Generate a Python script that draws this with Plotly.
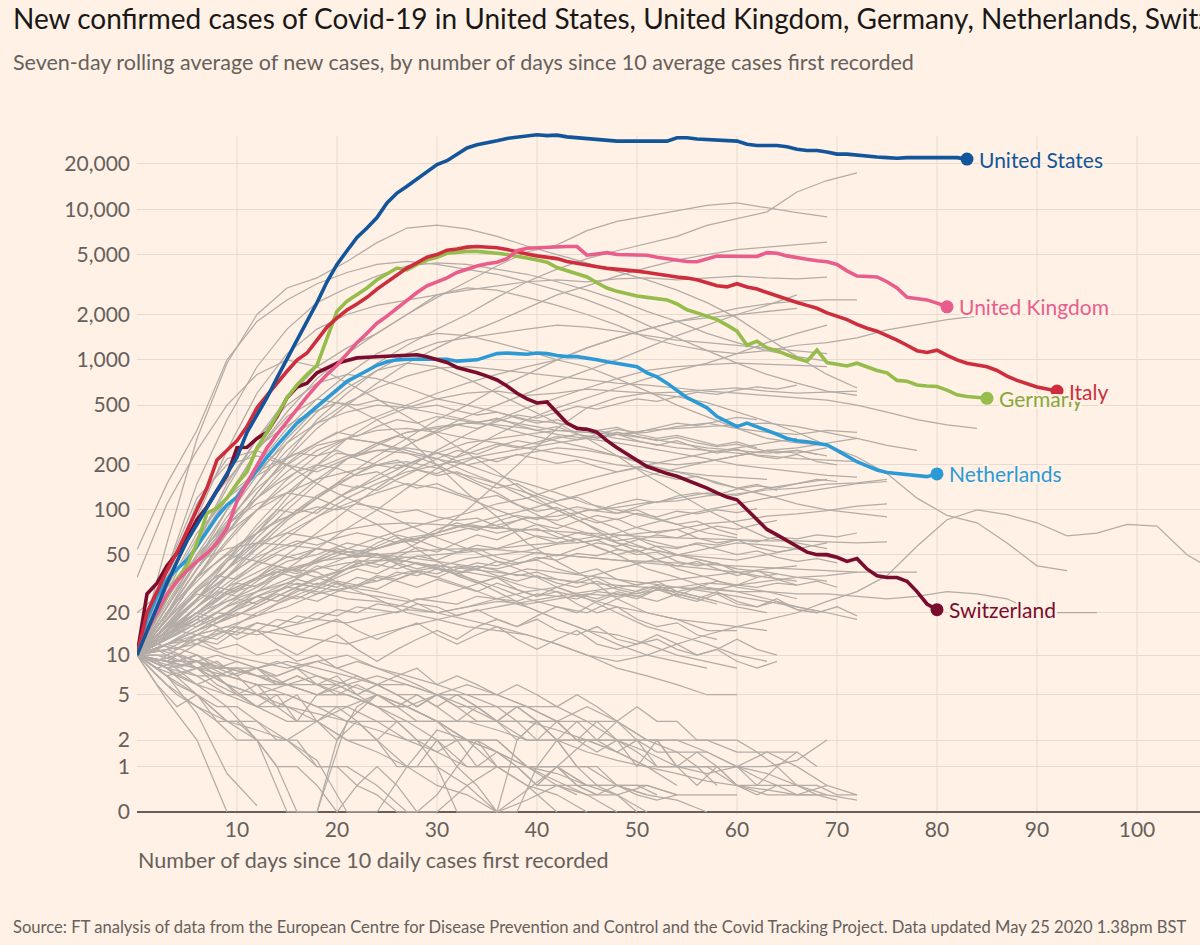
import math
import plotly.graph_objects as go

# ---------------- text ----------------
TITLE = ("New confirmed cases of Covid-19 in United States, United Kingdom, Germany, "
         "Netherlands, Switzerland and Italy")
SUBTITLE = "Seven-day rolling average of new cases, by number of days since 10 average cases first recorded"
X_TITLE = "Number of days since 10 daily cases first recorded"
SOURCE = ("Source: FT analysis of data from the European Centre for Disease Prevention and Control "
          "and the Covid Tracking Project. Data updated May 25 2020 1.38pm BST")

# ---------------- axes ----------------
Y_TICKS = [0, 1, 2, 5, 10, 20, 50, 100, 200, 500, 1000, 2000, 5000, 10000, 20000]
Y_TICK_LABELS = ["0", "1", "2", "5", "10", "20", "50", "100", "200", "500",
                 "1,000", "2,000", "5,000", "10,000", "20,000"]
X_TICKS = [10, 20, 30, 40, 50, 60, 70, 80, 90, 100]

# ---------------- highlighted countries (one value per day from day 0) ----------------
us_cases = [10, 15, 22, 32, 45, 62, 80, 105, 135, 175, 225, 330, 430, 560, 760, 1000, 1350, 1800,
            2400, 3300, 4300, 5300, 6500, 7500, 8800, 11000, 12800, 14200, 15800, 17500, 19800,
            21000, 23000, 25500, 26800, 27500, 28500, 29500, 30000, 30800, 31200, 30800, 31000,
            30200, 29800, 29500, 29000, 28500, 28300, 28300, 28300, 28300, 28300, 28300, 29800,
            29800, 29200, 29000, 29000, 28500, 28300, 27000, 26500, 26500, 26500, 26000, 25000,
            24500, 24500, 24000, 23200, 23200, 22800, 22500, 22200, 22000, 21800, 22000, 22000,
            22000, 22000, 22000, 22000, 21500]
uk_cases = [10, 15, 20, 27, 33, 39, 45, 51, 60, 75, 115, 150, 200, 260, 320, 390, 470, 570, 680,
            800, 920, 1100, 1300, 1500, 1750, 1950, 2200, 2500, 2800, 3100, 3300, 3500, 3800, 4000,
            4200, 4350, 4450, 4700, 5300, 5500, 5550, 5600, 5600, 5650, 5650, 4950, 5050, 5150,
            5000, 4980, 4960, 4950, 4800, 4700, 4600, 4500, 4480, 4700, 4890, 4870, 4850, 4850,
            4850, 5150, 5100, 4900, 4750, 4650, 4550, 4480, 4300, 3900, 3600, 3580, 3550, 3300,
            3000, 2600, 2550, 2500, 2380, 2250]
italy_cases = [10, 20, 28, 39, 52, 73, 100, 140, 216, 250, 290, 360, 480, 580, 700, 840, 997, 1110,
               1350, 1650, 1900, 2140, 2350, 2600, 2950, 3300, 3650, 4070, 4400, 4800, 5000, 5350,
               5450, 5600, 5650, 5600, 5550, 5400, 5200, 5050, 4900, 4830, 4700, 4500, 4400, 4260,
               4150, 4050, 4000, 3950, 3880, 3800, 3700, 3600, 3550, 3490, 3400, 3250, 3100, 3050,
               3200, 3050, 2950, 2800, 2650, 2520, 2400, 2300, 2200, 2050, 1950, 1850, 1720, 1620,
               1550, 1450, 1350, 1250, 1150, 1120, 1160, 1070, 1000, 950, 930, 900, 850, 780, 730,
               690, 660, 640, 620]
germany_cases = [10, 15, 20, 26, 34, 42, 60, 95, 103, 120, 150, 180, 260, 330, 430, 560, 680, 800,
                 920, 1400, 2100, 2450, 2700, 3000, 3400, 3700, 4070, 3950, 4300, 4600, 4800, 5100,
                 5200, 5250, 5250, 5200, 5100, 5000, 4900, 4750, 4600, 4450, 4100, 3900, 3700, 3550,
                 3250, 3000, 2850, 2750, 2650, 2600, 2550, 2500, 2350, 2150, 2050, 1950, 1850, 1700,
                 1550, 1250, 1330, 1200, 1150, 1080, 1020, 980, 1160, 960, 940, 910, 950, 900, 850,
                 820, 730, 720, 680, 670, 665, 630, 585, 570, 560, 555]
netherlands_cases = [10, 18, 26, 34, 40, 46, 57, 72, 90, 108, 122, 150, 185, 225, 270, 320, 380, 430,
                     490, 560, 640, 720, 780, 850, 920, 970, 1000, 1010, 1010, 1010, 1000, 1010, 980,
                     990, 1000, 1050, 1100, 1110, 1100, 1090, 1110, 1100, 1070, 1050, 1050, 1030,
                     1000, 970, 950, 930, 900, 820, 770, 700, 630, 560, 520, 480, 420, 390, 360, 380,
                     360, 340, 320, 300, 290, 285, 280, 272, 250, 230, 210, 197, 185, 178, 175, 172,
                     168, 167, 174]
switzerland_cases = [10, 27, 32, 42, 51, 65, 86, 105, 135, 170, 260, 262, 300, 330, 420, 560, 660,
                     700, 820, 880, 950, 990, 1030, 1040, 1050, 1060, 1060, 1070, 1080, 1050, 1010,
                     960, 890, 860, 820, 780, 735, 670, 600, 550, 517, 525, 450, 380, 350, 345, 330,
                     290, 260, 235, 215, 195, 185, 175, 168, 158, 150, 140, 130, 122, 117, 100, 85,
                     74, 68, 62, 57, 52, 50, 50, 48, 45, 47, 40, 36, 35, 35, 33, 28, 23, 21]

# ---------------- other countries (grey), one value every 3 days from day 0 ----------------
GRAY_STEP = 3

gray_high = [
    [10, 60, 300, 950, 2000, 3000, 3500, 4500, 6000, 7500, 7850, 7400, 6600, 5700, 5000, 4400, 3900,
     3400, 2900, 2400, 1900, 1400, 1050, 800, 650],
    [54, 150, 340, 1000, 1800, 2500, 3200, 3800, 4300, 4500, 4300, 4000, 3700, 3300, 2900, 2500, 2100,
     1700, 1400, 1150, 950, 800, 700, 620, 580],
    [10, 25, 60, 120, 250, 450, 750, 1100, 1500, 2000, 2600, 3300, 4200, 5200, 5800, 7200, 8300, 9000,
     9800, 10600, 11000, 10200, 9500, 8900],
    [10, 22, 45, 90, 170, 300, 480, 700, 950, 1250, 1600, 2000, 2600, 3300, 4000, 4700, 5300, 5900,
     6600, 7800, 8700, 9600, 13000, 15500, 17400],
    [10, 18, 35, 70, 130, 220, 350, 500, 700, 950, 1200, 1500, 1800, 2200, 2700, 3100, 3600, 4100,
     4600, 5000, 5400, 5600, 5800, 6050],
    [10, 40, 150, 400, 900, 1600, 2400, 3000, 3600, 4200, 4400, 4300, 4000, 3700, 3300, 2900, 2500,
     2100, 1800, 1500, 1300, 1150, 1050, 980],
    [10, 25, 60, 140, 300, 550, 900, 1200, 1500, 2000, 2700, 3000, 2900, 2600, 2300, 2000, 1700, 1400,
     1250, 1150, 1100, 1150, 1250, 1300, 1400, 1580, 1700, 1850, 1950],
    [10, 18, 35, 70, 130, 230, 400, 600, 850, 1100, 1300, 1400, 1500, 1600, 1700, 1650, 1550, 1450,
     1350, 1300, 1250, 1200, 1150, 1100],
    [10, 20, 45, 100, 200, 350, 550, 800, 1100, 1350, 1500, 1450, 1300, 1150, 1000, 900, 750, 620,
     500, 420, 350, 300, 280, 270],
    [10, 30, 90, 250, 600, 1100, 1600, 2000, 2300, 2500, 2700, 2900, 3100, 3300, 3400, 3300, 3450,
     3500, 3400, 3500, 3600, 3500, 3450, 3540],
    [10, 14, 22, 35, 55, 85, 120, 170, 230, 300, 400, 500, 650, 800, 1000, 1200, 1400, 1600, 1800,
     2000, 2200, 2350, 2450, 2500, 2500],
]

gray_mid = [
    [35, 110, 250, 500, 800, 1000, 900, 700, 550, 420, 320, 240, 180, 130, 100, 80, 65, 55, 50, 45,
     40, 38, 35, 33],
    [10, 25, 60, 150, 300, 500, 700, 800, 750, 650, 550, 500, 450, 400, 380, 350, 320, 300, 280, 260,
     250, 240, 250, 230],
    [10, 20, 40, 80, 150, 280, 450, 650, 850, 950, 900, 750, 600, 480, 380, 300, 230, 170, 130, 100,
     80, 65, 60, 55],
    [10, 15, 25, 40, 70, 120, 200, 300, 400, 480, 550, 600, 620, 580, 600, 640, 620, 600, 610, 630,
     650, 620, 600, 610, 620],
    [10, 25, 55, 120, 250, 420, 550, 500, 400, 300, 200, 130, 90, 60, 45, 35, 25, 20, 18, 15, 15],
    [10, 30, 70, 120, 170, 220, 280, 350, 420, 500, 600, 700, 800, 900, 1000, 1200, 1400, 1600, 1800,
     1900, 2000, 2100, 2200],
    [10, 15, 25, 40, 65, 100, 150, 220, 280, 330, 350, 380, 400, 370, 340, 330, 320, 330, 360, 380,
     350, 330, 320, 340, 330],
    [10, 18, 35, 60, 100, 160, 230, 300, 340, 350, 330, 300, 280, 260, 240, 220, 200, 190, 180, 170,
     165, 160],
    [10, 40, 120, 200, 230, 200, 180, 220, 250, 260, 240, 200, 170, 150, 130, 110, 100, 90, 80, 70, 65],
    [10, 12, 15, 18, 22, 28, 35, 40, 45, 55, 70, 100, 150, 230, 350, 480, 560, 600, 570, 520, 450,
     390, 330, 270, 226, 175, 120, 92, 82, 60, 42, 39],
    [10, 20, 40, 80, 150, 250, 380, 520, 650, 780, 880, 900, 860, 820, 780, 740, 700, 680, 650, 620,
     600, 580, 565, 540, 500, 450, 400, 370, 350],
    [10, 20, 35, 50, 70, 90, 120, 160, 210, 270, 340, 420, 500, 600, 720, 850, 1000, 1200, 1450, 1700,
     2000, 2300, 2700],
    [10, 12, 15, 20, 28, 40, 55, 75, 100, 140, 190, 250, 320, 400, 480, 560, 650, 750, 850, 950, 1100,
     1300, 1500, 1700],
    [10, 22, 50, 100, 180, 280, 380, 450, 500, 480, 440, 400, 360, 320, 290, 260, 230, 200, 180, 160,
     140, 125, 110, 100, 95, 90],
    [10, 14, 20, 30, 45, 65, 90, 120, 150, 180, 200, 220, 240, 260, 280, 300, 320, 340, 350, 360, 370,
     380, 360, 330, 300, 270, 250],
    [10, 16, 28, 45, 70, 110, 160, 220, 280, 330, 360, 380, 370, 350, 320, 300, 280, 260, 240, 220,
     200, 190, 180, 170, 166],
    [10, 35, 110, 220, 250, 200, 150, 120, 100, 80, 65, 55, 45, 38, 30, 25, 20, 16, 14, 12, 10, 9],
    [10, 20, 40, 70, 120, 200, 270, 300, 280, 240, 200, 160, 130, 100, 80, 70, 60, 55, 50, 48, 46, 50,
     55, 60],
    [10, 15, 25, 45, 80, 130, 190, 230, 250, 240, 220, 200, 220, 240, 260, 250, 230, 210, 200, 210,
     230, 250, 240, 260],
    [10, 13, 18, 25, 35, 50, 70, 100, 140, 190, 250, 320, 400, 480, 560, 650, 750, 850, 900, 930, 950,
     940, 920, 900],
]

gray_low = [
    [10, 14, 20, 28, 35, 45, 50, 60, 55, 65, 70, 80, 75, 90, 85, 100, 95, 110, 120, 130, 125, 140,
     150, 160],
    [10, 18, 30, 45, 60, 70, 65, 55, 50, 40, 35, 30, 25, 22, 18, 15, 14, 12, 10, 9, 8],
    [10, 12, 16, 20, 26, 32, 40, 48, 55, 62, 70, 80, 90, 100, 115, 130, 150, 170, 190, 210, 230, 250,
     260, 280, 300],
    [10, 20, 35, 50, 45, 40, 35, 30, 28, 25, 20, 18, 16, 14, 12, 10, 8, 7, 6, 5, 5],
    [10, 15, 22, 30, 38, 48, 55, 52, 50, 48, 45, 42, 40, 45, 50, 48, 46, 44, 42, 40, 38, 35, 33],
    [10, 9, 12, 15, 20, 25, 30, 40, 50, 45, 40, 35, 30, 25, 22, 20, 25, 30, 28, 25, 22, 20],
    [10, 16, 25, 35, 50, 70, 90, 110, 130, 150, 140, 120, 100, 85, 70, 60, 50, 40, 35, 30, 28, 25, 22,
     20, 18],
    [10, 14, 18, 24, 30, 38, 46, 55, 65, 75, 85, 95, 110, 120, 140, 160, 180, 200, 220, 240, 260, 280,
     300],
    [10, 12, 15, 18, 22, 28, 34, 40, 45, 48, 50, 52, 55, 58, 60, 65, 70, 80, 90, 100, 110, 120, 130,
     140, 150, 155],
    [10, 13, 17, 22, 26, 30, 28, 25, 24, 22, 20, 22, 25, 28, 30, 35, 40, 45, 50, 55, 60, 58, 55],
    [10, 20, 40, 70, 100, 130, 160, 180, 200, 210, 190, 170, 150, 130, 110, 90, 75, 60, 50, 45, 40],
    [10, 11, 14, 16, 19, 22, 27, 30, 33, 38, 41, 47, 50, 53, 59, 61, 67, 70, 74, 81, 84, 91, 94, 99,
     106, 110],
    [10, 25, 50, 80, 110, 130, 120, 100, 80, 60, 45, 35, 28, 22, 18, 15, 12, 10, 9, 8],
    [10, 15, 20, 24, 28, 32, 30, 28, 26, 24, 26, 30, 35, 40, 38, 36, 34, 32, 30, 28, 26, 24, 22, 20],
    [10, 18, 28, 40, 55, 75, 100, 130, 160, 200, 240, 280, 300, 320, 340, 330, 300, 280, 260, 250, 240,
     230, 220, 215, 210],
    [10, 12, 14, 16, 15, 14, 13, 12, 14, 16, 18, 20, 22, 24, 26, 28, 30, 32, 34, 36, 38, 40, 42],
    [10, 22, 45, 80, 120, 180, 250, 300, 280, 250, 220, 180, 150, 120, 100, 80, 60, 50, 40, 35, 30,
     28, 25],
    [10, 14, 19, 27, 31, 39, 44, 52, 55, 63, 67, 75, 79, 88, 91, 99, 104, 112, 115, 124, 128, 136, 140,
     149, 152, 160],
    [20, 30, 45, 55, 60, 58, 55, 50, 48, 45, 40, 38, 35, 30, 28, 25, 22, 20, 18, 17, 16, 15],
    [10, 12, 13, 15, 14, 16, 18, 17, 19, 21, 20, 22, 24, 23, 25, 27, 26, 28, 30, 32, 31, 33, 35, 36, 38],
    [10, 13, 17, 22, 28, 34, 40, 44, 46, 45, 42, 40, 38, 36, 34, 32, 31, 30, 30, 29, 28, 28, 27, 27,
     26, 25, 26, 28, 27, 25, 20, 20, 20],
    [10, 15, 20, 28, 35, 40, 38, 30, 25, 20, 18, 16, 15, 14, 12, 10, 9, 10, 12, 14, 16, 18, 20, 24, 28,
     36, 57, 86, 100, 93, 82, 67, 70, 80, 78, 50, 38],
    [10, 15, 22, 32, 44, 56, 66, 74, 80, 82, 80, 78, 76, 74, 72, 70, 68, 66, 65, 64, 63, 62, 62, 61, 60,
     61],
    [10, 14, 20, 27, 34, 40, 45, 48, 50, 52, 54, 55, 54, 52, 50, 48, 46, 45, 44, 43, 42, 41, 40, 39, 38,
     38, 38],
]

gray_fall = [
    [10, 4.5, 2, 0],
    [10, 7, 3.5, 0.8, 0.1],
    [10, 8, 5, 3, 3, 2, 1.2, 0, 0, 1, 2.5, 2, 1, 0.5, 0],
    [10, 9, 7, 5, 4, 3, 3, 2, 1.5, 1, 1, 0.5, 0, 0.4, 1, 2, 1.5, 1, 0.5],
    [10, 8, 6, 5, 5, 4, 3.5, 3, 2.5, 2, 1.5, 1, 1, 0.5, 0.3, 0],
    [10, 9, 8, 6, 5, 5, 4, 3, 3, 2, 2, 1, 1, 1, 0.6, 0.3, 0.3, 0.5, 0.3],
    [10, 6, 4, 3, 2.5, 2, 3, 4, 5, 4, 3, 2, 1.5, 1, 0.8, 0.5, 0.3, 0],
    [10, 11, 9, 7, 6, 5, 4, 4, 3, 3, 2, 2, 1.5, 1, 1, 0.5, 0.5, 0.3, 0.2, 0],
    [10, 8, 7, 7, 6, 6, 5, 5, 4, 4, 3, 3, 2.5, 2, 2, 1.5, 1.2, 1, 0.8, 0.6, 0.5, 0.4, 0.3, 0.3],
    [10, 9, 6, 4, 2, 0, 0, 3, 5, 4, 3, 2, 2, 1, 1, 0.5],
    [10, 10, 8, 8, 7, 6, 6, 5, 4, 4, 3, 3, 3, 2, 2, 2, 1.5, 1, 1, 1, 0.5, 0.3, 0.3, 0.5, 0.3],
    [10, 7, 5, 3, 2, 2, 1, 1, 0.5, 0, 0, 0.5, 1, 1, 0.5, 0.3, 0],
    [10, 12, 10, 8, 7, 6, 5, 5, 4, 3, 3, 2, 2, 1, 1, 1, 0.5, 0.5, 0.3, 0.3, 0.3],
    [10, 9, 8, 7, 8, 9, 8, 7, 6, 6, 5, 5, 4, 4, 3, 3, 2, 2, 1.5, 1.5, 1, 1, 1.2, 2],
    [10, 8, 9, 6, 5, 6, 7, 6, 5, 4, 5, 4, 3, 3, 2.5, 2, 2, 1.5, 1, 0.8, 1, 1.5, 1, 0.5],
    [10, 7, 8, 6, 4, 4, 3, 2, 2, 1, 0.5, 0.3, 0, 0.2, 0.5, 0.5, 0.5, 0.3],
    [10, 11, 12, 10, 9, 8, 9, 10, 8, 7, 6, 5, 5, 4, 4, 3, 3, 2, 2, 1.5, 1, 0.8, 0.5, 0.3, 0.2],
    [10, 9, 9, 8, 8, 6, 5, 6, 7, 6, 5, 6, 5, 4, 3, 4, 3, 2, 2, 2, 1.5, 1.5, 1.5],
]

# ---------------- more grey countries, one value every 2 days from day 0 ----------------
GRAY_STEP_FINE = 2

gray_fall_fine = [
    [10, 8, 7, 6, 7, 5, 4, 5, 3, 3, 2, 3, 2, 1, 1, 2, 1, 0.5, 0, 0, 1, 2, 1, 0.5, 0.3, 0],
    [10, 9, 10, 8, 9, 7, 8, 6, 7, 6, 5, 6, 5, 4, 5, 4, 3, 4, 3, 3, 2, 3, 2, 2, 1.5, 2, 1, 1, 0.5, 1,
     0.5, 0.3, 0.5],
    [10, 7, 5, 4, 3, 3, 2, 1, 0, 0, 2, 4, 5, 4, 3, 3, 2, 2, 1, 1, 0.5, 1, 0.5, 0.3],
    [10, 11, 9, 10, 8, 9, 8, 7, 8, 6, 7, 5, 6, 5, 4, 5, 4, 4, 3, 4, 3, 3, 2, 3, 2, 2, 1.5, 1.5, 1, 1,
     1, 0.7, 0.5, 0.5, 0.3, 0.2],
    [10, 6, 4, 5, 3, 2, 2, 1, 1, 0.5, 0, 0.5, 1, 0.5, 0],
    [10, 9, 8, 9, 7, 8, 7, 6, 7, 6, 6, 5, 6, 5, 5, 4, 5, 4, 3, 4, 3, 2, 3, 2, 2, 1, 2, 1, 1, 0.5],
    [10, 12, 11, 13, 11, 12, 10, 11, 9, 10, 8, 9, 8, 7, 8, 6, 7, 6, 5, 6, 5, 4, 5, 4, 3, 4, 3, 3, 2, 2,
     2, 1.5, 1, 1.5, 1],
    [10, 8, 6, 5, 4, 4, 3, 2, 2, 1, 1, 0.5, 0.3, 0, 0, 0.3, 1, 2, 1.5, 1, 0.5, 0.5, 0.3],
    [10, 9, 7, 8, 6, 5, 6, 4, 5, 3, 4, 3, 2, 3, 2, 1.5, 2, 1, 1.5, 1, 0.5, 1, 0.5, 0.3, 0.5, 0.3, 0.2,
     0.3],
    [10, 10, 9, 9, 8, 8, 7, 7, 8, 9, 8, 7, 6, 7, 6, 5, 5, 4, 4, 3, 3, 3, 2, 2, 3, 2, 2, 1, 1, 1, 0.5,
     0.5, 1, 0.5, 0.5, 0.3, 0.3],
    [10, 8, 9, 10, 8, 7, 5, 4, 3, 5, 6, 5, 4, 3, 2, 1, 0, 0, 0, 2, 3, 2, 1, 1, 0.5, 0.5, 0.3],
    [10, 11, 10, 9, 10, 9, 8, 9, 8, 7, 6, 7, 6, 5, 4, 5, 4, 3, 3, 2, 3, 2, 2, 1.5, 2, 1.5, 1, 1, 1.5,
     1, 1, 0.5, 0.5, 0.3, 0.3],
]

gray_low_fine = [
    [10, 13, 16, 20, 18, 22, 26, 24, 28, 32, 30, 35, 33, 38, 36, 40, 37, 42, 39, 36, 38, 34, 32, 35,
     30, 28, 31, 27, 25, 28, 24, 22, 25, 21, 20],
    [10, 12, 15, 14, 17, 20, 19, 23, 26, 24, 28, 31, 29, 34, 38, 35, 40, 44, 42, 47, 52, 49, 55, 60,
     57, 63, 68, 65, 72, 78, 74, 80, 85],
    [10, 14, 19, 25, 32, 40, 48, 55, 62, 58, 65, 70, 66, 60, 63, 56, 52, 55, 48, 44, 46, 40, 37, 40,
     34, 31, 33, 28, 26, 24],
    [10, 11, 13, 12, 15, 14, 17, 16, 19, 18, 21, 20, 23, 22, 25, 24, 23, 26, 25, 24, 27, 26, 25, 28,
     27, 26, 29, 28, 30, 29, 31, 30, 32, 31],
    [10, 16, 24, 33, 45, 58, 70, 85, 95, 105, 100, 110, 104, 96, 100, 90, 85, 88, 78, 72, 75, 66, 60,
     63, 55, 50, 52, 45, 42, 44, 38, 35, 37],
    [10, 13, 17, 22, 28, 26, 33, 40, 37, 45, 52, 48, 57, 65, 60, 70, 78, 73, 84, 92, 86, 98, 105, 99,
     110, 118, 112, 124, 130, 126, 138, 145, 140, 150, 160, 155],
    [10, 9, 11, 13, 12, 15, 17, 16, 14, 16, 18, 15, 13, 15, 17, 14, 12, 14, 16, 13, 11, 13, 15, 12, 11,
     12, 14, 12, 10, 11, 13, 11, 10],
    [10, 14, 18, 24, 30, 28, 35, 42, 39, 47, 55, 50, 60, 68, 63, 74, 82, 76, 70, 74, 66, 60, 64, 56,
     50, 54, 46, 42, 45, 40, 36, 39, 34, 31, 33, 30],
    [10, 12, 14, 17, 20, 19, 23, 27, 25, 29, 33, 31, 36, 34, 39, 37, 42, 40, 45, 43, 48, 46, 51, 49,
     54, 52, 57, 55, 60, 58, 63, 61, 66, 64, 68, 66, 70],
    [10, 15, 21, 28, 36, 34, 42, 50, 47, 55, 52, 48, 51, 44, 40, 43, 36, 32, 35, 29, 26, 28, 23, 20,
     22, 18, 16, 17, 14, 13],
    [10, 12, 11, 14, 13, 16, 15, 18, 17, 20, 19, 22, 21, 20, 23, 22, 19, 21, 18, 16, 18, 15, 14, 16,
     13, 12, 13, 11, 10, 11, 9, 8, 9],
    [10, 13, 17, 16, 20, 25, 23, 28, 34, 31, 37, 44, 41, 48, 56, 52, 60, 68, 63, 72, 80, 75, 84, 92,
     86, 95, 90, 98, 94, 100, 96, 102],
    [10, 12, 15, 19, 17, 21, 26, 24, 29, 27, 32, 30, 35, 33, 30, 34, 31, 28, 32, 29, 26, 30, 27, 25,
     28, 26, 24, 27, 25, 23],
    [10, 11, 13, 15, 18, 21, 24, 28, 32, 30, 35, 40, 37, 43, 49, 46, 52, 58, 55, 61, 67, 64, 70, 66,
     62, 65, 60, 56, 59, 54, 50, 53, 48, 45, 47, 44],
    [10, 14, 20, 27, 25, 32, 30, 38, 35, 42, 39, 46, 43, 40, 44, 41, 37, 40, 36, 33, 36, 32, 30, 33,
     29, 27, 30, 26, 24, 27, 23, 22, 24, 21, 20, 22, 19],
    [10, 12, 15, 18, 16, 13, 15, 12, 10, 12, 14, 11, 9, 11, 13, 15, 13, 16, 18, 16, 19, 22, 20, 24, 27,
     25, 29, 26, 30, 33, 31, 35],
]

gray_mid_fine = [
    [10, 18, 30, 48, 70, 100, 140, 180, 230, 280, 330, 310, 360, 400, 380, 420, 400, 380, 410, 370,
     340, 360, 320, 300, 320, 290, 270, 290, 260, 240, 255, 230, 220, 235, 210, 200],
    [10, 15, 24, 36, 52, 75, 100, 130, 165, 200, 240, 230, 270, 310, 290, 330, 370, 350, 390, 430, 410,
     450, 490, 470, 510, 550, 530, 570, 610, 590, 630, 660, 640, 680],
    [10, 20, 38, 65, 100, 140, 180, 210, 240, 230, 250, 220, 200, 215, 185, 170, 180, 155, 140, 150,
     128, 115, 122, 105, 95, 100, 88, 80, 84, 74, 68],
    [10, 14, 20, 29, 40, 55, 75, 100, 95, 120, 150, 140, 170, 200, 190, 220, 250, 235, 265, 290, 275,
     300, 320, 305, 330, 310, 290, 305, 280, 265, 275, 255, 240, 250, 235],
    [10, 17, 28, 44, 66, 92, 120, 150, 180, 200, 190, 170, 180, 155, 140, 150, 130, 118, 125, 108, 98,
     104, 90, 82, 87, 76, 70, 74, 65, 60, 63, 56, 52, 55, 50, 47],
    [10, 12, 16, 22, 30, 42, 58, 78, 100, 125, 150, 175, 200, 190, 215, 240, 225, 250, 275, 260, 285,
     310, 295, 320, 345, 330, 355, 380, 365, 390, 415, 400],
    [10, 22, 45, 80, 130, 190, 260, 330, 400, 460, 520, 500, 540, 510, 480, 500, 460, 430, 450, 410,
     380, 400, 360, 340, 355, 320, 300, 315, 290, 270, 285, 260],
    [10, 13, 18, 25, 34, 46, 60, 78, 100, 95, 120, 145, 135, 160, 185, 175, 200, 225, 210, 235, 220,
     205, 215, 195, 180, 190, 172, 160, 168, 150, 140, 148, 135],
]

# ---------------- styles ----------------
BG = "#fff1e5"
GRID = "#e7dad0"
AXIS = "#66605c"
MUTED = "#66605c"
GRAY = "#b3aca6"
FONT = "Lato"

HIGHLIGHTS = [
    # name, values, line colour, label colour
    ("Netherlands", netherlands_cases, "#2c9ad6", "#2c9ad6"),
    ("Switzerland", switzerland_cases, "#7a0c2e", "#7a0c2e"),
    ("Germany", germany_cases, "#96bc4b", "#86a83a"),
    ("Italy", italy_cases, "#cd2d3c", "#cd2d3c"),
    ("United Kingdom", uk_cases, "#e95d8c", "#e95d8c"),
    ("United States", us_cases, "#13559a", "#13559a"),
]


def sy(v):
    """symmetric-log scale used by the chart: log10(v + 1) so that 0 can be shown"""
    return math.log10(v + 1)


# plot-area geometry in page pixels (0 cases at y=812, 150.7 px per decade, 10 px per day)
L, T, W, H = 137, 120, 1063, 695
Y_MIN, Y_MAX = -0.02, 4.592
GRID_TOP = 4.486  # vertical gridlines stop a little below the top of the plot area
X_MAX = 106.3

fig = go.Figure()

for group, step in ((gray_fall, GRAY_STEP), (gray_fall_fine, GRAY_STEP_FINE),
                    (gray_low, GRAY_STEP), (gray_low_fine, GRAY_STEP_FINE),
                    (gray_mid, GRAY_STEP), (gray_mid_fine, GRAY_STEP_FINE),
                    (gray_high, GRAY_STEP)):
    for vals in group:
        fig.add_trace(go.Scatter(
            x=[i * step for i in range(len(vals))],
            y=[sy(v) for v in vals],
            mode="lines", line=dict(color=GRAY, width=1.25),
            hoverinfo="skip", showlegend=False))

halo = ", ".join(f"{dx}px {dy}px 0 {BG}" for dx in (-2, 0, 2) for dy in (-2, 0, 2) if dx or dy)

annotations = []
for name, vals, col, lab_col in HIGHLIGHTS:
    days = list(range(len(vals)))
    fig.add_trace(go.Scatter(
        x=days, y=[sy(v) for v in vals], mode="lines",
        line=dict(color=col, width=3.6), hoverinfo="skip", showlegend=False))
    fig.add_trace(go.Scatter(
        x=[days[-1]], y=[sy(vals[-1])], mode="markers",
        marker=dict(color=col, size=13), hoverinfo="skip", showlegend=False))

label_order = ["United States", "United Kingdom", "Germany", "Italy", "Netherlands", "Switzerland"]
lookup = {h[0]: h for h in HIGHLIGHTS}
for name in label_order:
    _, vals, col, lab_col = lookup[name]
    annotations.append(dict(
        x=len(vals) - 1, y=sy(vals[-1]), xref="x", yref="y", text=name,
        showarrow=False, xanchor="left", yanchor="middle", xshift=10,
        font=dict(family=FONT, size=21, color=lab_col, shadow=halo)))


def px_x(p):
    return (p - L) / W


def px_y(p):
    return (T + H - p) / H


annotations += [
    dict(x=px_x(11), y=px_y(18), xref="paper", yref="paper", text=TITLE, showarrow=False,
         xanchor="left", yanchor="middle", font=dict(family=FONT, size=28, color="#1a1817")),
    dict(x=px_x(11), y=px_y(62), xref="paper", yref="paper", text=SUBTITLE, showarrow=False,
         xanchor="left", yanchor="middle", font=dict(family=FONT, size=21.5, color=MUTED)),
    dict(x=px_x(136), y=px_y(860), xref="paper", yref="paper", text=X_TITLE, showarrow=False,
         xanchor="left", yanchor="middle", font=dict(family=FONT, size=21.5, color=MUTED)),
    dict(x=px_x(11), y=px_y(927), xref="paper", yref="paper", text=SOURCE, showarrow=False,
         xanchor="left", yanchor="middle", font=dict(family=FONT, size=16.6, color=MUTED)),
]

shapes = [dict(type="line", xref="x", yref="y", x0=t, x1=t, y0=Y_MIN, y1=GRID_TOP,
               line=dict(color=GRID, width=1), layer="below") for t in X_TICKS]

fig.update_layout(
    width=1200, height=945,
    paper_bgcolor=BG, plot_bgcolor=BG,
    margin=dict(l=L, r=0, t=T, b=945 - T - H, pad=0),
    showlegend=False,
    font=dict(family=FONT, color=MUTED),
    xaxis=dict(range=[0, X_MAX], tickvals=X_TICKS, showgrid=False,
               zeroline=False, showline=False, ticks="", tickfont=dict(size=21, color=MUTED),
               fixedrange=True),
    yaxis=dict(range=[Y_MIN, Y_MAX], tickvals=[sy(v) for v in Y_TICKS], ticktext=Y_TICK_LABELS,
               showgrid=True, gridcolor=GRID, gridwidth=1, zeroline=True, zerolinecolor=AXIS,
               zerolinewidth=1.5, showline=False, ticks="", ticklabelstandoff=6,
               tickfont=dict(size=21, color=MUTED), fixedrange=True),
    annotations=annotations,
    shapes=shapes,
)

fig.write_html("out.html", config={"displayModeBar": False},
               post_script="document.body.style.margin='0';")
